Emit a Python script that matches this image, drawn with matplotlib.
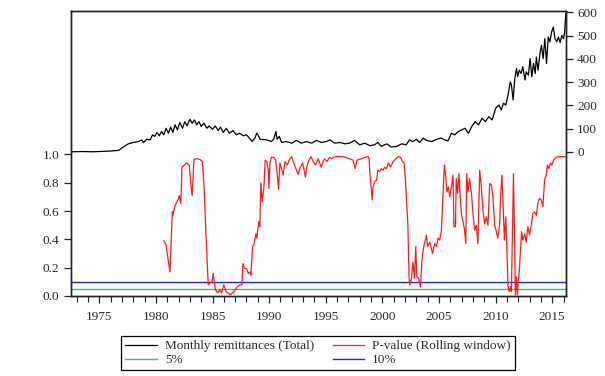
import matplotlib

matplotlib.use("Agg")
import matplotlib.pyplot as plt
from matplotlib.lines import Line2D
from matplotlib.ticker import FixedLocator, MultipleLocator, FormatStrFormatter

# monthly remittances (total)
remit_years = [
	1972.58, 1973.5, 1974.5, 1975.95, 1976.7, 1977.1, 1977.56, 1978.0, 1978.45, 1978.74,
	1978.9, 1979.2, 1979.5, 1979.7, 1979.9, 1980.1, 1980.3, 1980.5, 1980.7, 1980.9,
	1981.1, 1981.3, 1981.5, 1981.7, 1981.9, 1982.1, 1982.35, 1982.55, 1982.75, 1983.0,
	1983.2, 1983.4, 1983.6, 1983.8, 1984.0, 1984.25, 1984.5, 1984.7, 1985.0, 1985.25,
	1985.5, 1985.7, 1985.95, 1986.2, 1986.5, 1986.8, 1987.1, 1987.4, 1987.7, 1988.0,
	1988.3, 1988.5, 1988.75, 1988.9, 1989.05, 1989.2, 1989.8, 1990.2, 1990.4, 1990.6,
	1990.7, 1990.9, 1991.1, 1991.5, 1992.0, 1992.4, 1992.85, 1993.3, 1993.75, 1994.2,
	1994.6, 1995.05, 1995.35, 1995.8, 1996.25, 1996.7, 1997.1, 1997.55, 1998.0, 1998.45,
	1998.9, 1999.3, 1999.6, 1999.9, 2000.4, 2000.8, 2001.25, 2001.7, 2002.1, 2002.4,
	2002.7, 2003.0, 2003.3, 2003.6, 2003.9, 2004.35, 2004.8, 2005.2, 2005.5, 2005.8,
	2006.1, 2006.4, 2006.7, 2007.0, 2007.3, 2007.6, 2007.9, 2008.2, 2008.5, 2008.8,
	2009.1, 2009.4, 2009.7, 2010.0, 2010.3, 2010.5, 2010.7, 2010.9, 2011.1, 2011.3,
	2011.4, 2011.55, 2011.7, 2011.85, 2011.95, 2012.1, 2012.25, 2012.4, 2012.6, 2012.7,
	2012.9, 2013.05, 2013.2, 2013.35, 2013.5, 2013.6, 2013.75, 2013.9, 2014.05, 2014.2,
	2014.35, 2014.5, 2014.65, 2014.8, 2014.95, 2015.1, 2015.25, 2015.4, 2015.55, 2015.7,
	2015.85, 2016.0, 2016.1, 2016.2,
]
remit_values = [
	0, 1, 0, 3, 6, 20, 34, 40, 44, 51,
	40, 54, 51, 73, 66, 83, 69, 87, 73, 101,
	80, 106, 83, 116, 94, 126, 101, 130, 111, 140,
	123, 137, 116, 130, 109, 123, 101, 111, 97, 111,
	91, 106, 83, 101, 80, 91, 73, 80, 69, 73,
	57, 44, 59, 80, 70, 54, 51, 44, 54, 87,
	54, 66, 40, 44, 37, 49, 37, 44, 37, 49,
	40, 44, 51, 37, 40, 34, 37, 49, 30, 37,
	26, 30, 40, 23, 34, 20, 23, 34, 30, 51,
	44, 54, 40, 59, 49, 44, 54, 59, 51, 47,
	80, 73, 87, 94, 101, 80, 109, 130, 116, 144,
	130, 151, 137, 187, 201, 180, 209, 201, 244, 301,
	287, 223, 316, 359, 323, 351, 337, 366, 309, 344,
	330, 401, 323, 380, 337, 408, 351, 416, 459, 401,
	487, 380, 494, 473, 516, 537, 487, 473, 494, 470,
	501, 487, 516, 595,
]

# p-value of the rolling window test
pval_years = [
	1980.72, 1980.9, 1981.0, 1981.24, 1981.45, 1981.5, 1981.7, 1982.0, 1982.06, 1982.2,
	1982.3, 1982.5, 1982.7, 1982.95, 1983.07, 1983.2, 1983.36, 1983.6, 1983.9, 1984.1,
	1984.27, 1984.4, 1984.48, 1984.62, 1984.77, 1984.95, 1985.06, 1985.15, 1985.27, 1985.45,
	1985.65, 1985.8, 1986.0, 1986.2, 1986.4, 1986.56, 1986.77, 1987.0, 1987.18, 1987.42,
	1987.6, 1987.68, 1987.83, 1988.0, 1988.15, 1988.3, 1988.39, 1988.54, 1988.65, 1988.83,
	1988.92, 1989.07, 1989.18, 1989.27, 1989.39, 1989.54, 1989.65, 1989.8, 1989.92, 1989.98,
	1990.07, 1990.2, 1990.42, 1990.57, 1990.68, 1990.83, 1990.95, 1991.1, 1991.24, 1991.4,
	1991.6, 1991.77, 1991.98, 1992.12, 1992.36, 1992.56, 1992.7, 1992.95, 1993.07, 1993.2,
	1993.36, 1993.53, 1993.7, 1993.9, 1994.1, 1994.33, 1994.6, 1994.77, 1994.9, 1995.1,
	1995.35, 1995.5, 1995.8, 1996.5, 1997.1, 1997.4, 1997.6, 1997.77, 1998.16, 1998.45,
	1998.74, 1998.83, 1998.9, 1998.98, 1999.1, 1999.18, 1999.33, 1999.5, 1999.6, 1999.77,
	1999.9, 2000.07, 2000.2, 2000.36, 2000.54, 2000.72, 2000.95, 2001.2, 2001.4, 2001.6,
	2001.78, 2001.92, 2002.04, 2002.13, 2002.25, 2002.36, 2002.42, 2002.57, 2002.7, 2002.83,
	2002.95, 2003.04, 2003.2, 2003.37, 2003.48, 2003.6, 2003.75, 2003.9, 2004.0, 2004.2,
	2004.43, 2004.62, 2004.78, 2004.92, 2005.07, 2005.22, 2005.36, 2005.48, 2005.6, 2005.71,
	2005.83, 2005.95, 2006.1, 2006.24, 2006.32, 2006.45, 2006.53, 2006.65, 2006.77, 2006.89,
	2007.0, 2007.12, 2007.25, 2007.37, 2007.45, 2007.57, 2007.7, 2007.86, 2008.0, 2008.15,
	2008.3, 2008.44, 2008.6, 2008.74, 2008.9, 2009.03, 2009.18, 2009.33, 2009.48, 2009.63,
	2009.77, 2009.92, 2010.07, 2010.2, 2010.36, 2010.45, 2010.56, 2010.65, 2010.78, 2010.9,
	2011.0, 2011.1, 2011.2, 2011.3, 2011.4, 2011.5, 2011.58, 2011.67, 2011.75, 2011.84,
	2011.93, 2012.0, 2012.1, 2012.2, 2012.3, 2012.4, 2012.57, 2012.71, 2012.85, 2013.0,
	2013.15, 2013.3, 2013.44, 2013.6, 2013.73, 2013.88, 2014.03, 2014.18, 2014.33, 2014.48,
	2014.57, 2014.7, 2014.85, 2014.98, 2015.12, 2015.33, 2015.62, 2016.06, 2016.2,
]
pval_values = [
	0.39, 0.36, 0.30, 0.17, 0.595, 0.57, 0.64, 0.69, 0.71, 0.655,
	0.91, 0.925, 0.94, 0.925, 0.80, 0.71, 0.965, 0.97, 0.965, 0.95,
	0.75, 0.47, 0.325, 0.08, 0.09, 0.10, 0.16, 0.10, 0.042, 0.023,
	0.042, 0.023, 0.078, 0.03, 0.02, 0.007, 0.023, 0.042, 0.066, 0.078,
	0.078, 0.23, 0.195, 0.195, 0.16, 0.17, 0.148, 0.35, 0.36, 0.44,
	0.41, 0.525, 0.49, 0.80, 0.665, 0.77, 0.96, 0.95, 0.89, 0.76,
	0.94, 0.98, 0.98, 0.96, 0.89, 0.755, 0.94, 0.90, 0.855, 0.95,
	0.925, 0.96, 0.985, 0.95, 0.90, 0.86, 0.90, 0.94, 0.90, 0.84,
	0.925, 0.96, 0.985, 0.95, 0.925, 0.97, 0.91, 0.95, 0.97, 0.95,
	0.98, 0.97, 0.985, 0.985, 0.97, 0.96, 0.90, 0.96, 0.97, 0.98,
	0.985, 0.97, 0.865, 0.795, 0.68, 0.77, 0.81, 0.82, 0.89, 0.88,
	0.90, 0.89, 0.91, 0.90, 0.94, 0.91, 0.95, 0.97, 0.985, 0.98,
	0.95, 0.94, 0.82, 0.68, 0.51, 0.135, 0.078, 0.125, 0.24, 0.125,
	0.35, 0.135, 0.125, 0.066, 0.23, 0.325, 0.38, 0.43, 0.35, 0.38,
	0.30, 0.37, 0.35, 0.41, 0.395, 0.465, 0.725, 0.925, 0.84, 0.735,
	0.77, 0.70, 0.77, 0.855, 0.49, 0.49, 0.83, 0.725, 0.865, 0.68,
	0.57, 0.525, 0.475, 0.37, 0.865, 0.735, 0.83, 0.735, 0.585, 0.465,
	0.50, 0.37, 0.89, 0.77, 0.595, 0.51, 0.56, 0.50, 0.795, 0.785,
	0.70, 0.50, 0.455, 0.41, 0.51, 0.71, 0.855, 0.68, 0.395, 0.56,
	0.325, 0.066, 0.03, 0.066, 0.03, 0.51, 0.865, 0.44, 0.007, 0.135,
	0.007, 0.11, 0.18, 0.325, 0.455, 0.395, 0.44, 0.38, 0.49, 0.43,
	0.50, 0.585, 0.595, 0.57, 0.655, 0.69, 0.68, 0.63, 0.82, 0.855,
	0.925, 0.90, 0.94, 0.925, 0.96, 0.98, 0.985, 0.985, 0.985,
]

# significance levels
level_5 = 0.05
level_10 = 0.10

left_ticks = [0.0, 0.2, 0.4, 0.6, 0.8, 1.0]
right_ticks = [0, 100, 200, 300, 400, 500, 600]
year_ticks = [1975, 1980, 1985, 1990, 1995, 2000, 2005, 2010, 2015]

TEXT = "#2a2a2a"


def main() -> None:
	plt.rcParams["font.family"] = ["Liberation Serif", "DejaVu Serif"]
	plt.rcParams["font.size"] = 9.5

	fig = plt.figure(figsize=(6.05, 3.76), dpi=100)
	ax = fig.add_axes([71 / 605, 1 - 296 / 376, 495 / 605, 285 / 376])
	ax2 = ax.twinx()

	ax.plot(pval_years, pval_values, color="#ff1a1a", lw=0.9, zorder=3)
	ax.axhline(level_5, color="#3cc070", lw=1.0, zorder=2)
	ax.axhline(level_10, color="#2020ff", lw=1.0, zorder=2)
	ax2.plot(remit_years, remit_values, color="black", lw=0.9)

	ax.set_xlim(1972.5, 2016.22)
	ax.set_ylim(0, 2.014)
	ax2.set_ylim(-621, 606)

	ax.yaxis.set_major_locator(FixedLocator(left_ticks))
	ax.yaxis.set_major_formatter(FormatStrFormatter("%.1f"))
	ax2.yaxis.set_major_locator(FixedLocator(right_ticks))
	ax.xaxis.set_major_locator(FixedLocator(year_ticks))
	ax.xaxis.set_minor_locator(MultipleLocator(1))

	for a in (ax, ax2):
		for spine in a.spines.values():
			spine.set_linewidth(1.0)
			spine.set_color("#222222")
	ax.tick_params(axis="both", which="major", direction="out", length=5, width=0.9,
		colors="#222222", labelcolor=TEXT, labelsize=9.5)
	ax.tick_params(axis="x", which="minor", direction="out", length=4, width=0.8, colors="#222222")
	ax.tick_params(axis="x", pad=6)
	ax2.tick_params(axis="y", direction="out", length=5, width=0.9,
		colors="#222222", labelcolor=TEXT, labelsize=9.5, pad=3)

	handles = [
		Line2D([], [], color="black", lw=0.9),
		Line2D([], [], color="#3cc070", lw=1.0),
		Line2D([], [], color="#ff1a1a", lw=0.9),
		Line2D([], [], color="#2020ff", lw=1.0),
	]
	labels = ["Monthly remittances (Total)", "5%", "P-value (Rolling window)", "10%"]
	leg = fig.legend(handles, labels, ncol=2, loc="upper center",
		bbox_to_anchor=(318 / 605, 1 - 336 / 376), frameon=True, fancybox=False,
		edgecolor="black", framealpha=1, fontsize=9.5, handlelength=2.4,
		handletextpad=0.6, columnspacing=1.4, borderpad=0.3, labelspacing=0.15,
		borderaxespad=0)
	leg.get_frame().set_linewidth(0.9)
	for t in leg.get_texts():
		t.set_color(TEXT)

	fig.savefig("out.png", dpi=100)


if __name__ == "__main__":
	main()
